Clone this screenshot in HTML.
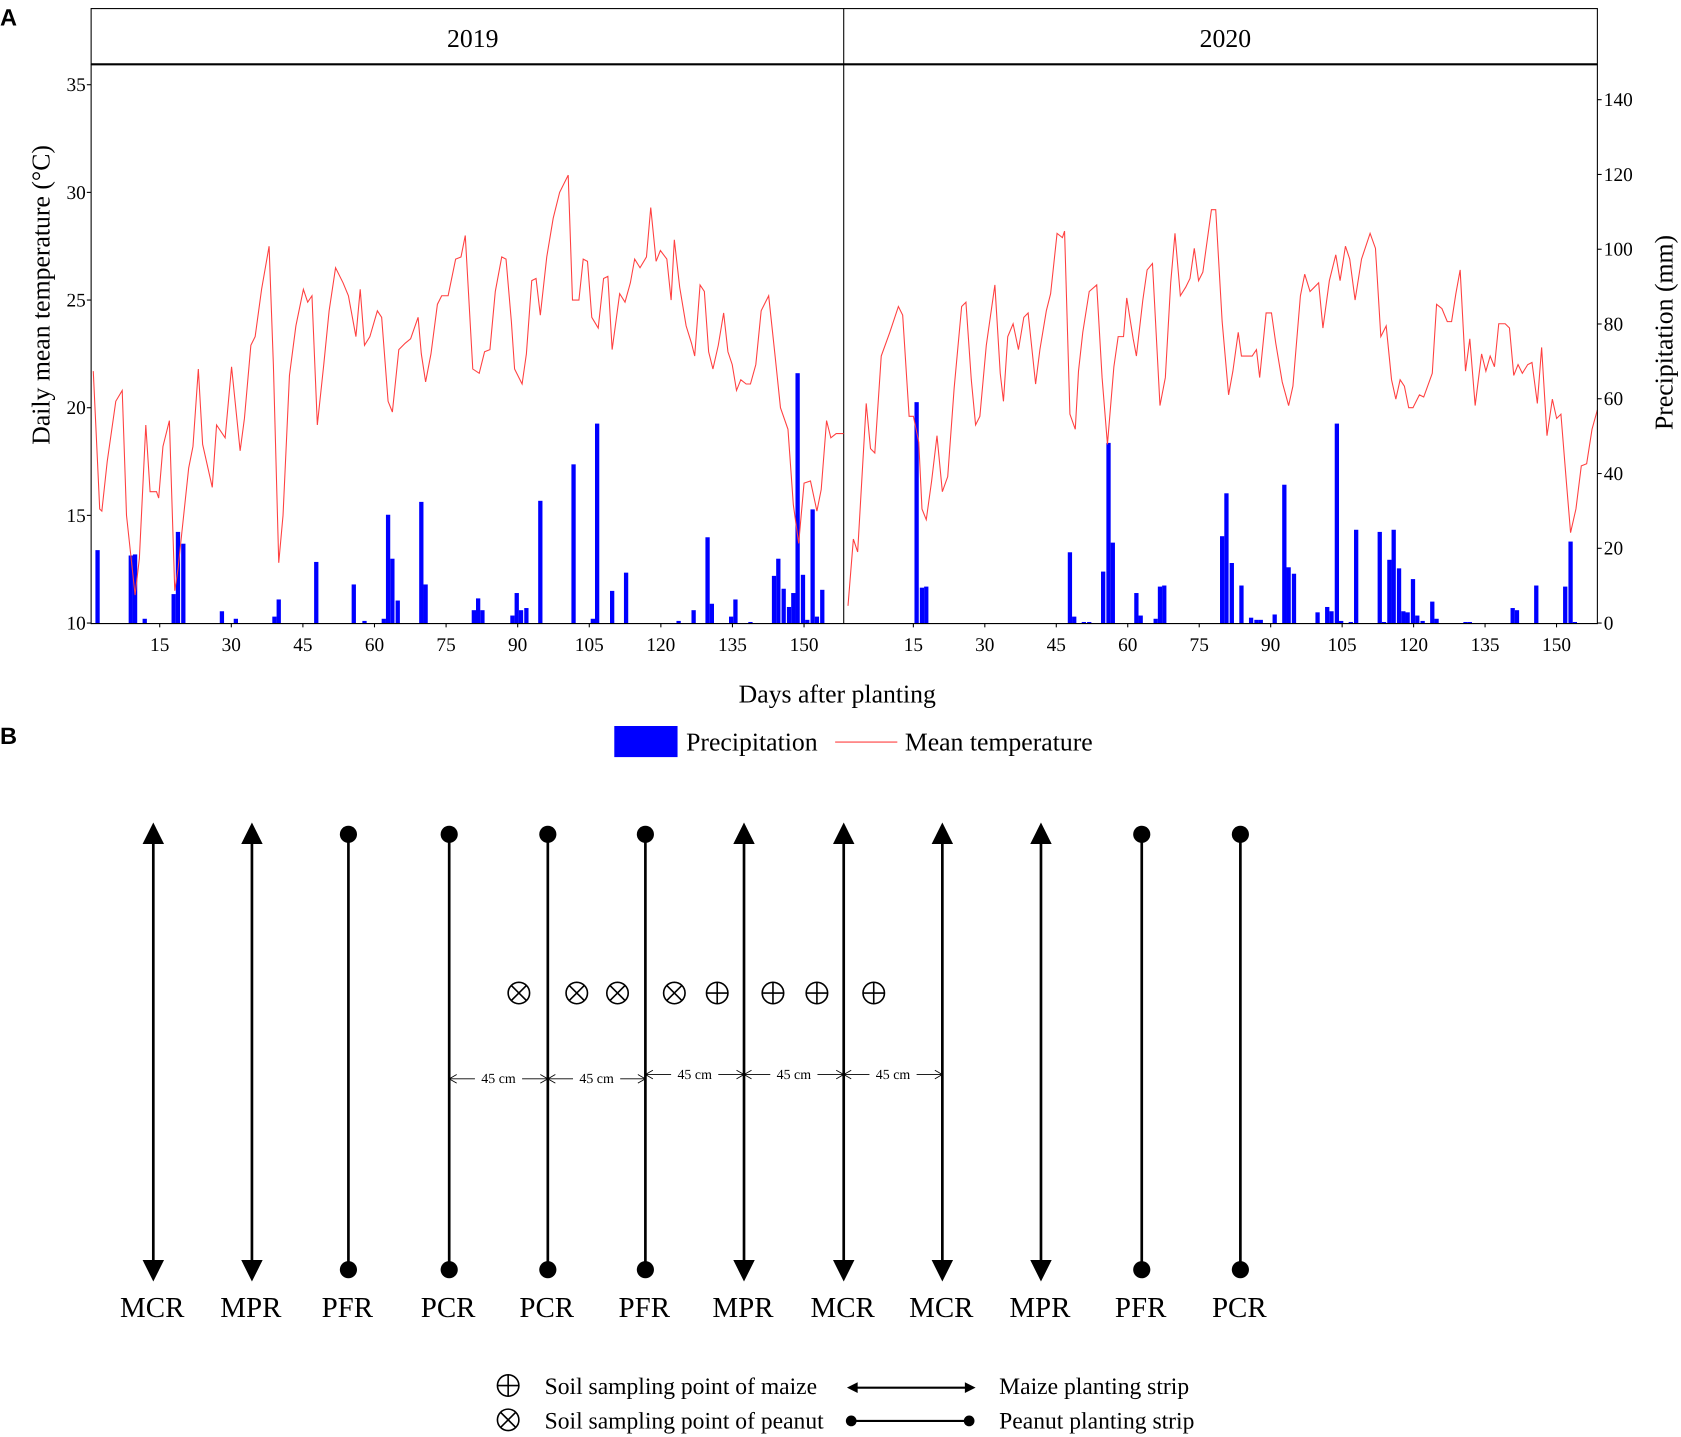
<!DOCTYPE html>
<html><head><meta charset="utf-8"><style>
html,body{margin:0;padding:0;background:#fff}
svg{display:block}
text{font-family:"Liberation Serif",serif;fill:#000;text-rendering:geometricPrecision}
</style></head><body>
<svg id="s" width="1681" height="1437" viewBox="0 0 1568 1340" preserveAspectRatio="none" xmlns="http://www.w3.org/2000/svg" font-family="Liberation Serif, serif">
<text x="0" y="24" style="font-family:'Liberation Sans',sans-serif;font-weight:bold;font-size:22px">A</text>
<text x="0" y="694" style="font-family:'Liberation Sans',sans-serif;font-weight:bold;font-size:22px">B</text>
<rect x="85" y="8" width="1405" height="52" fill="none" stroke="#000" stroke-width="1"/>
<line x1="787" y1="8" x2="787" y2="581" stroke="#000" stroke-width="1"/>
<line x1="85" y1="60" x2="1490" y2="60" stroke="#000" stroke-width="2"/>
<text x="441" y="44" font-size="24" text-anchor="middle" font-family="Liberation Serif, serif">2019</text>
<text x="1143" y="44" font-size="24" text-anchor="middle" font-family="Liberation Serif, serif">2020</text>
<g id="bars" fill="#0000ff"></g>
<g id="lines" fill="none" stroke="#ff4040" stroke-width="1"></g>
<line x1="85" y1="60" x2="85" y2="582" stroke="#000"/>
<line x1="1490" y1="60" x2="1490" y2="582" stroke="#000"/>
<line x1="85" y1="581.5" x2="1490" y2="581.5" stroke="#000"/>
<g id="ticks" font-size="18" font-family="Liberation Serif, serif"></g>
<text transform="translate(46,275) rotate(-90)" font-size="24" text-anchor="middle">Daily mean temperature (°C)</text>
<text transform="translate(1560,310) rotate(-90)" font-size="24" text-anchor="middle">Precipitation (mm)</text>
<text x="781" y="655" font-size="24" text-anchor="middle">Days after planting</text>
<rect x="573" y="677" width="59" height="29" fill="#0000ff"/>
<text x="640" y="700" font-size="24">Precipitation</text>
<line x1="779" y1="692" x2="837" y2="692" stroke="#ff4040"/>
<text x="844" y="700" font-size="24">Mean temperature</text>
<g id="B" font-family="Liberation Serif, serif"></g>
</svg>
<script>
var NS="http://www.w3.org/2000/svg";
function el(p,t,a,txt){var e=document.createElementNS(NS,t);for(var k in a)e.setAttribute(k,a[k]);if(txt!=null)e.textContent=txt;p.appendChild(e);return e;}
var g=document.getElementById('ticks');
function ty(t){return 581-(t-10)*20.08;}
[10,15,20,25,30,35].forEach(function(v){var y=ty(v);el(g,'line',{x1:81,y1:y,x2:85,y2:y,stroke:'#000'});el(g,'text',{x:80,y:y+6,'text-anchor':'end'},v);});
[0,20,40,60,80,100,120,140].forEach(function(v){var y=581-v*3.486;el(g,'line',{x1:1490,y1:y,x2:1494,y2:y,stroke:'#000'});el(g,'text',{x:1496,y:y+6},v);});
[15,30,45,60,75,90,105,120,135,150].forEach(function(d){var x=82.2+4.452*d;el(g,'line',{x1:x,y1:581,x2:x,y2:585,stroke:'#000'});el(g,'text',{x:x,y:607,'text-anchor':'middle'},d);
x=785.3+4.444*d;el(g,'line',{x1:x,y1:581,x2:x,y2:585,stroke:'#000'});el(g,'text',{x:x,y:607,'text-anchor':'middle'},d);});
var bars=[[91,513],[122,518],[126,517],[135,577],[162,554],[166,496],[171,507],[207,570],[220,577],[256,575],[260,559],[295,524],[330,545],[340,579],[358,577],[362,480],[366,521],[371,560],[393,468],[397,545],[442,569],[446,558],[450,569],[478,574],[482,553],[486,569],[491,567],[504,467],[535,433],[553,577],[557,395],[571,551],[584,534],[633,579],[647,569],[660,501],[664,563],[682,575],[686,559],[700,580],[722,537],[726,521],[731,549],[736,566],[740,553],[744,348],[749,536],[753,578],[758,475],[762,575],[767,550],
[855,375],[860,548],[864,547],[998,515],[1002,575],[1011,580],[1016,580],[1029,533],[1034,413],[1038,506],[1060,553],[1064,574],[1078,577],[1082,547],[1086,546],[1140,500],[1144,460],[1149,525],[1158,546],[1167,576],[1172,578],[1176,578],[1189,573],[1198,452],[1202,529],[1207,535],[1229,571],[1238,566],[1242,570],[1247,395],[1251,579],[1260,580],[1265,494],[1287,496],[1291,580],[1296,522],[1300,494],[1305,530],[1309,570],[1313,571],[1318,540],[1322,574],[1327,579],[1336,561],[1340,577],[1367,580],[1371,580],[1411,567],[1415,569],[1433,546],[1460,547],[1465,505],[1469,580]];
var bg=document.getElementById('bars');
bars.forEach(function(b){el(bg,'rect',{x:b[0]-2,y:b[1],width:4,height:581-b[1]});});
var t1=[87,21.7,93,15.3,95,15.2,100,17.5,108,20.3,114,20.8,118,15,126,11.3,130,13,136,19.2,140,16.1,146,16.1,148,15.8,152,18.2,158,19.4,163,11.5,166,12.5,176,17.2,180,18.2,185,21.8,189,18.3,198,16.3,202,19.2,210,18.6,216,21.9,224,18.0,228,19.5,234,22.9,238,23.3,244,25.5,251,27.5,255,22,260,12.8,264,15,270,21.5,276,23.8,283,25.5,287,24.9,291,25.2,296,19.2,302,22,307,24.5,313,26.5,320,25.8,325,25.2,332,23.3,336,25.5,340,22.9,345,23.3,352,24.5,356,24.2,362,20.3,366,19.8,372,22.7,378,23.0,383,23.2,390,24.2,393,22.5,397,21.2,402,22.5,408,24.8,412,25.2,418,25.2,425,26.9,430,27.0,434,28,441,21.8,447,21.6,452,22.6,457,22.7,462,25.4,468,27.0,472,26.9,477,24,480,21.8,487,21.1,491,22.5,496,25.9,500,26.0,504,24.3,510,27,516,28.8,522,30.0,530,30.8,534,25,540,25,544,26.9,548,26.8,552,24.2,558,23.7,563,26.0,567,26.1,571,22.7,578,25.3,583,24.9,588,25.8,592,26.9,597,26.5,603,27.0,607,29.3,612,26.8,616,27.3,622,26.9,626,25.0,629,27.8,634,25.6,640,23.8,645,23.0,648,22.4,653,25.7,657,25.4,661,22.6,665,21.8,670,22.9,675,24.4,679,22.6,683,22.0,687,20.8,691,21.3,696,21.1,700,21.1,705,22.0,710,24.5,717,25.2,723,22.4,728,20.0,735,19.0,740,15.5,745,13.7,750,16.5,756,16.6,762,15.2,766,16.2,771,19.4,775,18.6,780,18.8,787,18.8];
var t2=[791,10.8,796,13.9,800,13.3,808,20.2,812,18.1,816,17.9,822,22.4,830,23.5,838,24.7,842,24.3,848,19.6,852,19.6,857,18.4,860,15.3,864,14.8,869,16.6,874,18.7,879,16.1,884,16.8,890,20.9,897,24.7,901,24.9,906,21.3,910,19.2,914,19.6,920,22.9,928,25.7,933,21.6,936,20.3,940,23.3,945,23.9,950,22.7,955,24.2,959,24.4,966,21.1,970,22.7,976,24.5,980,25.3,986,28.1,991,27.9,993,28.2,998,19.7,1003,19.0,1006,21.7,1010,23.5,1016,25.4,1023,25.7,1028,21.4,1033,18.3,1039,21.9,1043,23.3,1048,23.3,1051,25.1,1057,23.2,1060,22.4,1066,25.0,1070,26.4,1075,26.7,1082,20.1,1087,21.4,1092,25.8,1096,28.1,1101,25.2,1106,25.6,1110,26,1114,27.4,1118,25.9,1122,26.3,1130,29.2,1134,29.2,1140,24,1146,20.6,1150,21.7,1155,23.5,1158,22.4,1164,22.4,1168,22.4,1172,22.7,1175,21.4,1181,24.4,1186,24.4,1190,23.0,1196,21.2,1202,20.1,1206,21.0,1213,25.2,1217,26.2,1222,25.4,1226,25.6,1230,25.8,1234,23.7,1240,25.9,1246,27.1,1250,25.9,1255,27.5,1259,26.9,1264,25.0,1270,26.9,1278,28.1,1283,27.4,1288,23.3,1293,23.8,1298,21.3,1302,20.4,1306,21.3,1310,21.0,1314,20.0,1318,20.0,1324,20.6,1328,20.5,1336,21.6,1340,24.8,1345,24.6,1350,24.0,1354,24.0,1358,25.3,1362,26.4,1367,21.7,1371,23.2,1376,20.1,1382,22.5,1386,21.7,1390,22.4,1394,21.9,1398,23.9,1404,23.9,1408,23.7,1412,21.5,1416,22.0,1420,21.6,1425,22.0,1429,22.1,1434,20.2,1438,22.8,1443,18.7,1448,20.4,1452,19.5,1456,19.7,1461,16.6,1465,14.2,1470,15.3,1475,17.3,1480,17.4,1485,19,1490,19.9];
var lg=document.getElementById('lines');
[t1,t2].forEach(function(t){var p=[];for(var i=0;i<t.length;i+=2)p.push(t[i]+','+ty(t[i+1]).toFixed(1));el(lg,'polyline',{points:p.join(' ')});});
var B=document.getElementById('B');
var xs=[143,235,325,419,511,602,694,787,879,971,1065,1157];
var ty2='MMPPPPMMMMPP', lab=['MCR','MPR','PFR','PCR','PCR','PFR','MPR','MCR','MCR','MPR','PFR','PCR'];
xs.forEach(function(x,i){
 el(B,'line',{x1:x,y1:778,x2:x,y2:1184,stroke:'#000','stroke-width':2.5});
 if(ty2[i]=='M'){el(B,'polygon',{points:(x-10)+',787 '+x+',767 '+(x+10)+',787'});el(B,'polygon',{points:(x-10)+',1175 '+x+',1195 '+(x+10)+',1175'});}
 else{el(B,'circle',{cx:x,cy:778,r:8});el(B,'circle',{cx:x,cy:1184,r:8});}
 el(B,'text',{x:x-1,y:1228,'font-size':27,'text-anchor':'middle'},lab[i]);
});
function sym(x,y,t,r){el(B,'circle',{cx:x,cy:y,r:r,fill:'none',stroke:'#000','stroke-width':1.5});
 if(t=='x'){var d=r*0.707;el(B,'line',{x1:x-d,y1:y-d,x2:x+d,y2:y+d,stroke:'#000','stroke-width':1.5});el(B,'line',{x1:x-d,y1:y+d,x2:x+d,y2:y-d,stroke:'#000','stroke-width':1.5});}
 else{el(B,'line',{x1:x-r,y1:y,x2:x+r,y2:y,stroke:'#000','stroke-width':1.5});el(B,'line',{x1:x,y1:y-r,x2:x,y2:y+r,stroke:'#000','stroke-width':1.5});}}
[484,538,576,629].forEach(function(x){sym(x,926,'x',10);});
[669,721,762,815].forEach(function(x){sym(x,926,'p',10);});
var dims=[[419,511,1006],[511,602,1006],[602,694,1002],[694,787,1002],[787,879,1002]];
dims.forEach(function(d){var a=d[0],b=d[1],y=d[2],m=(a+b)/2;
 el(B,'line',{x1:a,y1:y,x2:m-22,y2:y,stroke:'#000','stroke-width':0.8});el(B,'line',{x1:m+22,y1:y,x2:b,y2:y,stroke:'#000','stroke-width':0.8});
 el(B,'polyline',{points:(a+7)+','+(y-4)+' '+a+','+y+' '+(a+7)+','+(y+4),fill:'none',stroke:'#000','stroke-width':0.8});
 el(B,'polyline',{points:(b-7)+','+(y-4)+' '+b+','+y+' '+(b-7)+','+(y+4),fill:'none',stroke:'#000','stroke-width':0.8});
 el(B,'text',{x:m,y:y+4,'font-size':13,'text-anchor':'middle'},'45 cm');});
sym(474,1292,'p',10);sym(474,1324,'x',10);
el(B,'text',{x:508,y:1300,'font-size':22},'Soil sampling point of maize');
el(B,'text',{x:508,y:1332,'font-size':22},'Soil sampling point of peanut');
el(B,'line',{x1:796,y1:1294,x2:904,y2:1294,stroke:'#000','stroke-width':2});
el(B,'polygon',{points:'790,1294 800,1289 800,1299'});el(B,'polygon',{points:'910,1294 900,1289 900,1299'});
el(B,'line',{x1:794,y1:1325,x2:904,y2:1325,stroke:'#000','stroke-width':2});
el(B,'circle',{cx:794,cy:1325,r:5});el(B,'circle',{cx:904,cy:1325,r:5});
el(B,'text',{x:932,y:1300,'font-size':22},'Maize planting strip');
el(B,'text',{x:932,y:1332,'font-size':22},'Peanut planting strip');
</script>
</body></html>
